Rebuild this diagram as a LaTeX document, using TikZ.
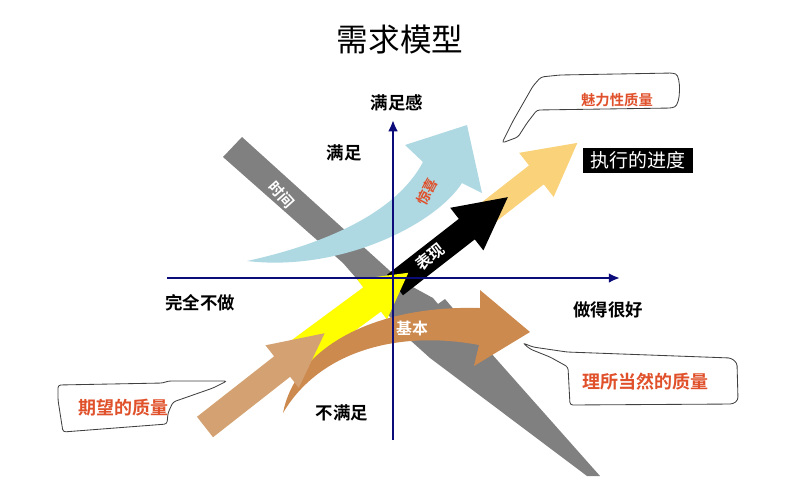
\documentclass[tikz,border=0pt]{standalone}
\usepackage{fontspec}
\setmainfont{Noto Sans CJK SC}[BoldFont={Noto Sans CJK SC Bold}]
\usetikzlibrary{arrows.meta}
\definecolor{qmnavy}{HTML}{0B0B7A}
\definecolor{qmred}{HTML}{E0502A}
\definecolor{qmgray}{HTML}{808080}
\definecolor{qmblue}{HTML}{AED8E2}
\definecolor{qmorange}{HTML}{F9D27A}
\definecolor{qmyellow}{HTML}{FFFF00}
\definecolor{qmtan}{HTML}{D4A272}
\definecolor{qmbrown}{HTML}{CD8A4F}
% colour, start, angle, length, shaft half width, head half width, head length
\newcommand{\fatarrow}[7]{%
  \fill[#1,shift={#2},rotate=#3] (0,-#5) -- ({#4-#7},-#5) -- ({#4-#7},-#6) -- (#4,0)
    -- ({#4-#7},#6) -- ({#4-#7},#5) -- (0,#5) -- cycle;}

\begin{document}
\begin{tikzpicture}[x=0.025cm,y=-0.025cm]
\tikzset{
  qm label/.style={font=\fontsize{12.4}{14}\selectfont\bfseries},
  qm inside/.style={text=white,font=\fontsize{10.5}{12}\selectfont\bfseries},
  qm red/.style={text=qmred,font=\fontsize{12.8}{14}\selectfont\bfseries},
  qm callout/.style={draw=black!75,line width=0.6pt,fill=white,rounded corners=2pt},
  qm axis/.style={draw=qmnavy,line width=1.8pt,-{Latex[length=8pt,width=7pt]}}
}
\useasboundingbox (0,0) rectangle (800,476);

\node[font=\fontsize{22.5}{26}\selectfont] (title) at (400,40) {需求模型};

% time band
\fill[qmgray] (223,157) -- (242,137) -- (400,280) -- (433,298) -- (438,304) -- (445,299)
  -- (490,352) -- (600,476) -- (587,476) -- (430,358) -- (410,340) -- (343,263) -- cycle;

% surprise
\fill[qmblue] (247,261) .. controls (320,245) and (395,215) .. (423,162) -- (405,145)
  -- (467,125) -- (482,193) -- (462,183) .. controls (435,225) and (340,272) .. (247,261) -- cycle;

% progress and performance
\fatarrow{qmorange}{(430,258)}{38}{187}{12}{28}{52}
\fatarrow{black}{(395,285)}{37.9}{143}{13}{27}{52}
\fatarrow{qmyellow}{(290,360)}{36.4}{147}{15}{25}{45}

% basic
\fill[qmbrown] (283,413) .. controls (295,350) and (370,305) .. (480,308) -- (480,290)
  -- (530,332) -- (474,366) -- (479,345) .. controls (400,330) and (320,350) .. (283,413) -- cycle;

% expected
\fatarrow{qmtan}{(205,427)}{38.1}{152}{13}{27}{54}

% axes
\coordinate (xl) at (167,278);
\coordinate (xr) at (620,278);
\coordinate (yb) at (393,440);
\coordinate (yt) at (393,120);
\draw[qm axis] (xl) -- (xr);
\draw[qm axis] (yb) -- (yt);

\node[qm label] (ylab) at (397,103) {满足感};
\node[qm label] (sat) at (344,153) {满足};
\node[qm label] (none) at (200,303) {完全不做};
\node[qm label] (good) at (608,310) {做得很好};
\node[qm label] (unsat) at (342,413) {不满足};

\node[qm inside,rotate=-48] (time) at (282,195) {时间};
\node[text=qmred,font=\fontsize{10}{12}\selectfont\bfseries,rotate=62] (surprise) at (427,192) {惊喜};
\node[qm inside,font=\fontsize{11.3}{13}\selectfont\bfseries,rotate=38] (perf) at (430,257) {表现};
\node[qm inside,font=\fontsize{11.3}{13}\selectfont\bfseries] (basic) at (412,328) {基本};

% callouts
\path[qm callout] (502,143) -- (513,121) -- (533,86) -- (541,77) -- (560,75) -- (673,73)
  .. controls (681,76) and (681,104) .. (672,108) -- (537,110) -- (527,123) -- (518,137) -- cycle;
\node[qm red,font=\fontsize{10.2}{12}\selectfont\bfseries] (charm) at (617,100) {魅力性质量};

\path[qm callout] (523,343) -- (533,347) -- (567,352) -- (731,358) -- (737,363) -- (738,400)
  -- (733,404) -- (570,405) -- (568,367) -- (550,357) -- (530,349) -- cycle;
\node[qm red] (natural) at (645,382) {理所当然的质量};

\path[qm callout] (58,385) -- (163,383) -- (168,381) -- (227,381) -- (213,388) -- (173,402)
  -- (168,413) -- (167,424) -- (63,432) -- (58,400) -- cycle;
\node[qm red] (expect) at (123,408) {期望的质量};

\node[fill=black,text=white,minimum width=2.75cm,minimum height=0.62cm,inner sep=0,
  font=\fontsize{13.5}{15}\selectfont] (exec) at (638,160.5) {执行的进度};
\end{tikzpicture}
\end{document}
